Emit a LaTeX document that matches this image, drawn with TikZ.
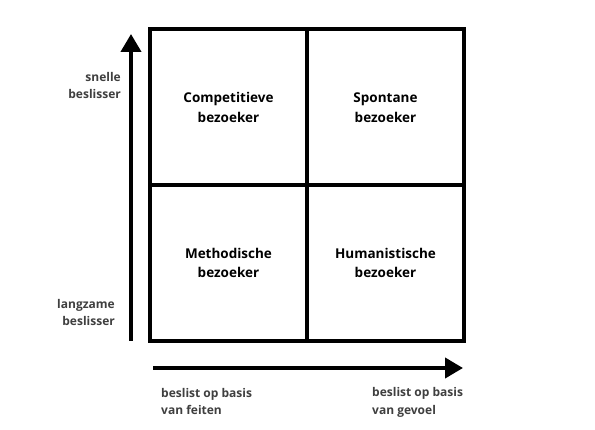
\documentclass[tikz,border=0pt]{standalone}
\usepackage{fontspec}
\setmainfont{Open Sans}
\usetikzlibrary{arrows.meta}
\definecolor{labelgray}{HTML}{3F3F3F}
\begin{document}
\begin{tikzpicture}[x=1pt,y=-1pt,
  cell/.style={draw=black,line width=4pt,minimum width=157pt,minimum height=156pt,inner sep=0pt,
    align=center,font=\fontsize{13.5}{19.5}\selectfont\bfseries,text=black},
  axislabel/.style={font=\fontsize{12}{17.5}\selectfont\bfseries,text=labelgray,inner sep=0pt},
  axis/.style={line width=4pt,-{Triangle[width=20pt,length=18pt]}}]
\useasboundingbox (0,0) rectangle (595,430);
\fill[white] (0,0) rectangle (595,430);
\node[cell] (c1) at (228.5,107.5) {Competitieve\\bezoeker};
\node[cell] (c2) at (385.5,107.5) {Spontane\\bezoeker};
\node[cell] (c3) at (228.5,263) {Methodische\\bezoeker};
\node[cell] (c4) at (385.5,263) {Humanistische\\bezoeker};
\coordinate (vs) at (131,341);
\coordinate (ve) at (131,34);
\coordinate (hs) at (153,368);
\coordinate (he) at (463,368);
\draw[axis] (vs) -- (ve);
\draw[axis] (hs) -- (he);
\node[axislabel,anchor=east,align=right] (l1) at (121,85.5) {snelle\\beslisser};
\node[axislabel,anchor=east,align=right] (l2) at (115,312.5) {langzame\\beslisser};
\node[axislabel,anchor=west,align=left] (l3) at (161,401.5) {beslist op basis\\van feiten};
\node[axislabel,anchor=west,align=left] (l4) at (372,402.5) {beslist op basis\\van gevoel};
\end{tikzpicture}
\end{document}
